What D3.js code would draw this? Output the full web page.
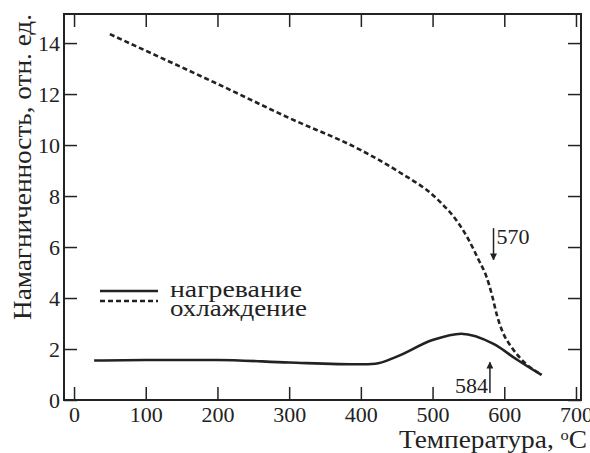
<!DOCTYPE html>
<html>
<head>
<meta charset="utf-8">
<script src="https://cdn.jsdelivr.net/npm/d3@7"></script>
<style>
  .serif { font-family: "Liberation Serif", "Times New Roman", serif; }
</style>
</head>
<body style="margin:0; background:#fff">
<svg id="chart" width="590" height="453" class="serif"></svg>
<script>
// heating curve (temperature, magnetization)
var heatT = [28, 100, 200, 300, 400, 420, 450, 500, 540, 585, 618, 652];
var heatM = [1.55, 1.57, 1.57, 1.47, 1.40, 1.42, 1.70, 2.35, 2.60, 2.20, 1.58, 0.98];
// cooling curve
var coolT = [50, 100, 200, 300, 400, 450, 508, 536, 550, 565, 575, 583, 590, 598, 610, 629, 652];
var coolM = [14.35, 13.7, 12.4, 11.06, 9.8, 9.0, 7.84, 6.94, 6.3, 5.45, 4.85, 4.1, 3.3, 2.65, 2.08, 1.45, 1.0];

var xTicks = [0, 100, 200, 300, 400, 500, 600, 700];
var yTicks = [0, 2, 4, 6, 8, 10, 12, 14];

var serif = "Liberation Serif";

var svg = d3.select("#chart"),
    margin = { top: 14, right: 9, bottom: 53, left: 64 },
    width = +svg.attr("width") - margin.left - margin.right,
    height = +svg.attr("height") - margin.top - margin.bottom,
    g = svg.append("g").attr("transform", "translate(" + margin.left + "," + margin.top + ")");

var x = d3.scaleLinear().domain([-14, 707]).range([0, width]);
var y = d3.scaleLinear().domain([0, 15.14]).range([height, 0]);

var line = d3.line()
    .x(function (d) { return x(d[0]); })
    .y(function (d) { return y(d[1]); })
    .curve(d3.curveMonotoneX);

// axes, ticks pointing inward
function styleAxis(sel) {
    sel.attr("font-family", serif);
    sel.select(".domain").remove();
    sel.selectAll("line").attr("stroke", "#222").attr("stroke-width", 1.5);
    sel.selectAll("text").attr("font-size", 22).attr("fill", "#222");
}

g.append("g")
    .attr("transform", "translate(0," + height + ")")
    .call(d3.axisBottom(x).tickValues(xTicks).tickSizeInner(-13).tickSizeOuter(0).tickPadding(4))
    .call(styleAxis)
    .selectAll("text").attr("dy", "0.8em");

g.append("g")
    .call(d3.axisTop(x).tickValues(xTicks).tickSizeInner(-13).tickSizeOuter(0).tickFormat(""))
    .call(styleAxis);

g.append("g")
    .call(d3.axisLeft(y).tickValues(yTicks).tickSizeInner(-13).tickSizeOuter(0).tickPadding(4))
    .call(styleAxis);

g.append("g")
    .attr("transform", "translate(" + width + ",0)")
    .call(d3.axisRight(y).tickValues(yTicks).tickSizeInner(-13).tickSizeOuter(0).tickFormat(""))
    .call(styleAxis);

g.append("rect")
    .attr("width", width).attr("height", height)
    .attr("fill", "none").attr("stroke", "#222").attr("stroke-width", 2);

// curves
g.append("path")
    .datum(heatT.map(function (t, i) { return [t, heatM[i]]; }))
    .attr("d", line)
    .attr("fill", "none").attr("stroke", "#222").attr("stroke-width", 2.6);

g.append("path")
    .datum(coolT.map(function (t, i) { return [t, coolM[i]]; }))
    .attr("d", line)
    .attr("fill", "none").attr("stroke", "#222").attr("stroke-width", 2.6)
    .attr("stroke-dasharray", "5,3");

// arrows
svg.append("defs").append("marker")
    .attr("id", "head").attr("viewBox", "0 0 10 10")
    .attr("refX", 9).attr("refY", 5)
    .attr("markerWidth", 7).attr("markerHeight", 7)
    .attr("markerUnits", "userSpaceOnUse")
    .attr("orient", "auto")
    .append("path").attr("d", "M0,0 L10,5 L0,10 z").attr("fill", "#222");

g.append("line")
    .attr("x1", x(585)).attr("x2", x(585))
    .attr("y1", y(6.74)).attr("y2", y(5.5))
    .attr("stroke", "#222").attr("stroke-width", 1.5)
    .attr("marker-end", "url(#head)");
g.append("text")
    .attr("x", x(585) + 3).attr("y", y(6.1))
    .attr("font-size", 22).text("570");

g.append("line")
    .attr("x1", x(580)).attr("x2", x(580))
    .attr("y1", y(0.27)).attr("y2", y(1.48))
    .attr("stroke", "#222").attr("stroke-width", 1.5)
    .attr("marker-end", "url(#head)");
g.append("text")
    .attr("x", x(580) - 2).attr("y", y(0.27))
    .attr("text-anchor", "end")
    .attr("font-size", 22).text("584");

// legend
var legend = g.append("g").attr("transform", "translate(36,277)");
legend.append("line").attr("x1", 0).attr("x2", 58).attr("y1", 0).attr("y2", 0)
    .attr("stroke", "#222").attr("stroke-width", 2.6);
legend.append("line").attr("x1", 0).attr("x2", 58).attr("y1", 10).attr("y2", 10)
    .attr("stroke", "#222").attr("stroke-width", 2.6).attr("stroke-dasharray", "5,3");
legend.append("text").attr("x", 70).attr("y", 6).attr("font-size", 23)
    .attr("textLength", 132).attr("lengthAdjust", "spacingAndGlyphs").text("нагревание");
legend.append("text").attr("x", 70).attr("y", 25).attr("font-size", 23)
    .attr("textLength", 137).attr("lengthAdjust", "spacingAndGlyphs").text("охлаждение");

// axis titles
svg.append("text")
    .attr("x", 587).attr("y", 448)
    .attr("text-anchor", "end").attr("font-size", 25)
    .attr("textLength", 188).attr("lengthAdjust", "spacingAndGlyphs")
    .html("Температура, <tspan baseline-shift='super' font-size='15'>o</tspan>C");

svg.append("text")
    .attr("transform", "translate(31,167) rotate(-90)")
    .attr("text-anchor", "middle").attr("font-size", 25)
    .attr("textLength", 306).attr("lengthAdjust", "spacingAndGlyphs")
    .text("Намагниченность, отн. ед.");

svg.selectAll("text").attr("font-family", serif).style("font-family", "'" + serif + "'").style("fill", "#222");
</script>
</body>
</html>
